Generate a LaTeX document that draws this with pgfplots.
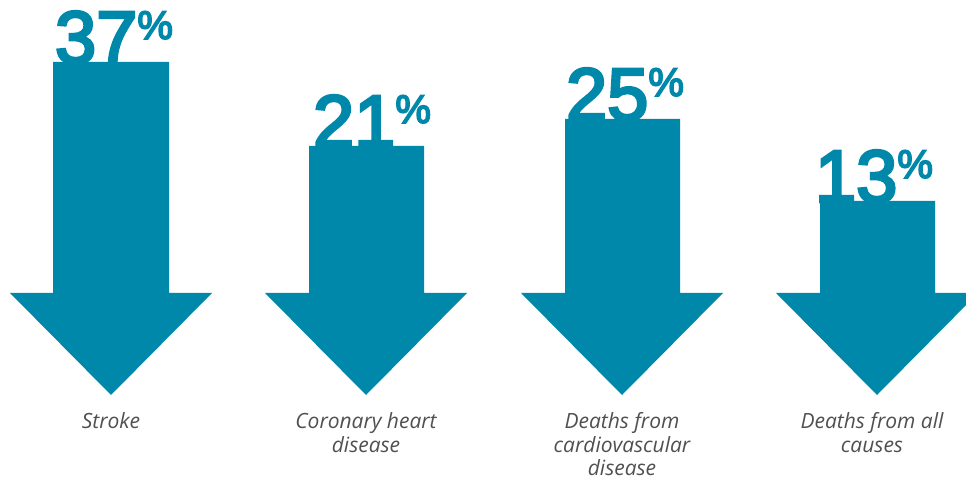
\documentclass[border=0pt]{standalone}
\usepackage{pgfplots}
\pgfplotsset{compat=1.18}
\usepackage{fontspec}
\setmainfont{Liberation Sans}
\newfontfamily\numfont[FakeBold=4]{Liberation Sans}
\newfontfamily\labelfont{Open Sans}
\definecolor{arrowblue}{HTML}{0088AB}
\definecolor{labelgray}{HTML}{505050}
\newcommand{\bignum}[1]{{\numfont\fontsize{74}{74}\selectfont #1\raisebox{24pt}{\fontsize{40}{40}\selectfont\%}}}
\tikzset{catlabel/.style={anchor=north, align=center, text=labelgray, inner sep=0pt, font=\labelfont\itshape\fontsize{21}{23.5}\selectfont}}
\begin{document}
\begin{tikzpicture}
\useasboundingbox (0,0) rectangle (966pt,482pt);
\begin{axis}[
  at={(0,0)}, anchor=south west,
  x=1pt, y=1pt, scale only axis,
  xmin=0, xmax=966, ymin=0, ymax=482,
  width=966pt, height=482pt,
  hide axis,
]
% arrow 1: Stroke (37%)
\addplot[fill=arrowblue, draw=none] coordinates {(53,420) (169,420) (169,189) (212,189) (111,87) (10,189) (53,189)} -- cycle;
% arrow 2: Coronary heart disease (21%)
\addplot[fill=arrowblue, draw=none] coordinates {(309,336) (424,336) (424,189) (467,189) (366,87) (265,189) (309,189)} -- cycle;
% arrow 3: Deaths from cardiovascular disease (25%)
\addplot[fill=arrowblue, draw=none] coordinates {(565,363) (680,363) (680,189) (723,189) (622,87) (521,189) (565,189)} -- cycle;
% arrow 4: Deaths from all causes (13%)
\addplot[fill=arrowblue, draw=none] coordinates {(820,281) (935,281) (935,189) (978,189) (877,87) (776,189) (820,189)} -- cycle;

\node[anchor=base, text=arrowblue, inner sep=0pt] at (axis cs:114,419) {\bignum{37}};
\node[anchor=base, text=arrowblue, inner sep=0pt] at (axis cs:372,335) {\bignum{21}};
\node[anchor=base, text=arrowblue, inner sep=0pt] at (axis cs:625,362) {\bignum{25}};
\node[anchor=base, text=arrowblue, inner sep=0pt] at (axis cs:874,280) {\bignum{13}};

\node[catlabel] at (axis cs:111,70) {\strut Stroke};
\node[catlabel] at (axis cs:366,70) {\strut Coronary heart\\disease};
\node[catlabel] at (axis cs:622,70) {\strut Deaths from\\cardiovascular\\disease};
\node[catlabel] at (axis cs:872,70) {\strut Deaths from all\\causes};
\end{axis}
\end{tikzpicture}
\end{document}
